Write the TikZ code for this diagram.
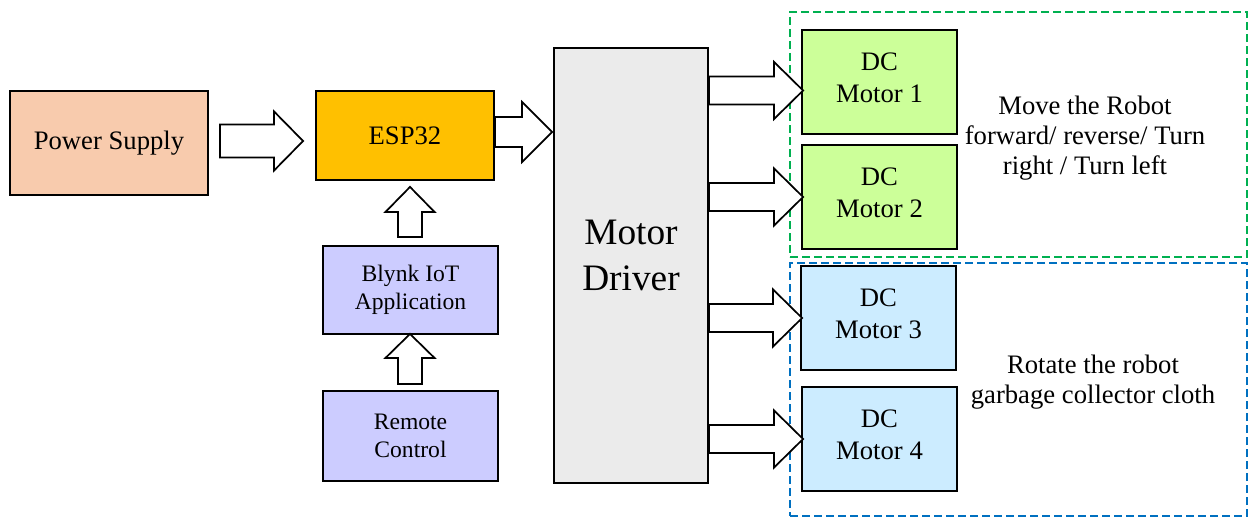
\documentclass[tikz,border=0pt]{standalone}
\usepackage{fontspec}
\setmainfont{Liberation Serif}
\usetikzlibrary{calc}

\definecolor{psfill}{HTML}{F8CBAD}
\definecolor{espfill}{HTML}{FFC000}
\definecolor{appfill}{HTML}{CCCCFF}
\definecolor{drvfill}{HTML}{EBEBEB}
\definecolor{mgreen}{HTML}{CCFF99}
\definecolor{mblue}{HTML}{CCECFF}
\definecolor{grpgreen}{HTML}{00B050}
\definecolor{grpblue}{HTML}{0070C0}

\tikzset{
  boxsize/.style 2 args={minimum width=#1*0.75pt, minimum height=#2*0.75pt},
  block/.style={draw=black, line width=1.6pt, inner sep=0pt, align=center,
                font=\fontsize{20}{24}\selectfont},
  smallblock/.style={block, font=\fontsize{17.7}{21}\selectfont},
  motorbox/.style={block, boxsize={155}{104}, text depth=6pt},
  group/.style={draw=#1, dashed, dash pattern=on 6pt off 3pt, line width=1.5pt,
                inner sep=0pt},
  note/.style={align=center, font=\fontsize{20}{22.5}\selectfont},
  arrowline/.style={draw=black, fill=white, line width=1.3pt, line join=miter},
  % hollow block arrow: length, head length, half shaft width, half head width
  pics/blockarrow/.style n args={4}{code={
    \draw[arrowline] (0,-#3) -- ({#1-#2},-#3) -- ({#1-#2},-#4) -- (#1,0)
      -- ({#1-#2},#4) -- ({#1-#2},#3) -- (0,#3) -- cycle;
  }},
}

\begin{document}
\begin{tikzpicture}[x=0.75pt, y=-0.75pt]
\useasboundingbox (0,0) rectangle (1248,517);

% groups of motors
\node[group=grpgreen, boxsize={457}{245}] (movegrp) at (1018.5,134.5) {};
\node[group=grpblue, boxsize={457}{253}] (rotgrp) at (1018.5,389.5) {};

% blocks
\node[block, fill=psfill, boxsize={198}{104}] (ps) at (109,143) {Power Supply};
\node[block, fill=espfill, boxsize={178}{89}] (esp) at (405,135.5) {ESP32};
\node[smallblock, fill=appfill, boxsize={175}{88}] (blynk) at (410.5,290) {Blynk IoT\\Application};
\node[smallblock, fill=appfill, boxsize={175}{90}] (remote) at (410.5,436) {Remote\\Control};
\node[block, fill=drvfill, boxsize={154}{435},
      label={[align=center, font=\fontsize{28}{34}\selectfont, yshift=7.5pt]center:Motor\\Driver}]
      (drv) at (631,265.5) {};

\node[motorbox, fill=mgreen] (m1) at (879.5,82) {DC\\Motor 1};
\node[motorbox, fill=mgreen] (m2) at (879.5,197) {DC\\Motor 2};
\node[motorbox, fill=mblue] (m3) at (878.5,318) {DC\\Motor 3};
\node[motorbox, fill=mblue] (m4) at (879.5,439) {DC\\Motor 4};

% group descriptions
\node[note] (movetxt) at (1085,138) {Move the Robot\\forward/ reverse/ Turn\\right / Turn left};
\node[note] (rottxt) at (1093,382) {Rotate the robot\\garbage collector cloth};

% hollow arrows between blocks
\pic at ($(ps.east)+(11,-2)$) {blockarrow={83}{29}{16.5}{29.5}};
\pic at ($(esp.east)+(0,-3.5)$) {blockarrow={57}{30}{15}{30}};
\pic[rotate=90] at ($(blynk.north)+(-0.5,-8)$) {blockarrow={50}{25}{12}{24.5}};
\pic[rotate=90] at ($(remote.north)+(-0.5,-6)$) {blockarrow={50}{24}{12}{24.5}};
\pic at ($(drv.east |- m1.west)+(0,8.5)$) {blockarrow={94}{29}{14}{28.5}};
\pic at (drv.east |- m2.west) {blockarrow={94}{29}{14}{28.5}};
\pic at (drv.east |- m3.west) {blockarrow={93}{29}{14}{28.5}};
\pic at (drv.east |- m4.west) {blockarrow={94}{29}{14}{28.5}};
\end{tikzpicture}
\end{document}
